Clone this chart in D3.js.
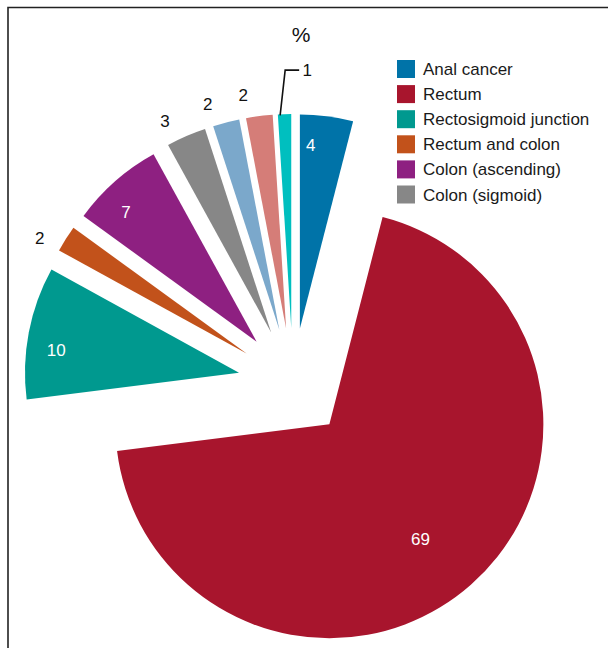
<!DOCTYPE html>
<html lang="en">
<head>
  <meta charset="UTF-8">
  <title>Exploded pie – tumour site</title>
  <script src="https://d3js.org/d3.v7.min.js"></script>
  <style>
    body { margin: 0; background: #fff; font-family: "Liberation Sans", Arial, sans-serif; }
    .slice-label { font-size: 17px; text-anchor: middle; }
    .legend text { font-size: 17px; fill: #1a1a1a; }
  </style>
</head>
<body>
  <svg id="chart" width="608" height="648"></svg>
  <script>
    // Data (percent), clockwise from 12 o'clock
    const categories = ["Anal cancer", "Rectum", "Rectosigmoid junction", "Rectum and colon",
                        "Colon (ascending)", "Colon (sigmoid)", "Other 1", "Other 2", "Other 3"];
    const values = [4, 69, 10, 2, 7, 3, 2, 2, 1];
    const colors = ["#0073a8", "#a8152d", "#00998f", "#c2521b", "#8e2081", "#878787",
                    "#7ba8cb", "#d57d78", "#00bfbf"];
    // only the first six appear in the legend
    const legendItems = categories.slice(0, 6);

    const width = 608, height = 648;
    const cx = 293, cy = 383;       // common pie centre
    const radius = 214;
    const explode = 55;             // every slice pushed out along its bisector
    const deg = Math.PI / 180;

    const svg = d3.select("#chart");

    // frame (top and left rules)
    svg.append("path")
      .attr("d", `M8,${height} L8,7.5 L${width},7.5`)
      .attr("fill", "none")
      .attr("stroke", "#222")
      .attr("stroke-width", 1.6);

    const data = values.map((v, i) => ({ name: categories[i], value: v, color: colors[i] }));
    const arcs = d3.pie().sort(null).value(d => d.value)(data);
    const arcGen = d3.arc().innerRadius(0).outerRadius(radius);

    // polar helper: angle measured clockwise from top, as d3.arc does
    const polar = (a, r) => [r * Math.sin(a), -r * Math.cos(a)];

    const g = svg.append("g").attr("transform", `translate(${cx},${cy})`);

    const slice = g.selectAll("g.slice")
      .data(arcs)
      .join("g")
        .attr("class", "slice")
        .attr("transform", d => {
          const [x, y] = polar((d.startAngle + d.endAngle) / 2, explode);
          return `translate(${x},${y})`;
        });

    slice.append("path")
      .attr("d", arcGen)
      .attr("fill", d => d.data.color);

    // value labels
    slice.each(function(d) {
      const sel = d3.select(this);
      const mid = (d.startAngle + d.endAngle) / 2;
      if (d.data.value > 50) {
        const [x, y] = polar(mid + 3 * deg, radius * 0.685);
        sel.append("text").attr("class", "slice-label")
          .attr("x", x).attr("y", y).attr("dy", "0.35em")
          .attr("fill", "#fff")
          .text(d.data.value);
      } else if (d.data.value >= 4) {
        const [x, y] = polar(mid - 3.8 * deg, radius * 0.86);
        sel.append("text").attr("class", "slice-label")
          .attr("x", x).attr("y", y).attr("dy", "0.35em")
          .attr("fill", "#fff")
          .text(d.data.value);
      } else if (d.data.value >= 2) {
        const [x, y] = polar(mid - 3.2 * deg, radius + 23);
        sel.append("text").attr("class", "slice-label")
          .attr("x", x).attr("y", y).attr("dy", "0.35em")
          .attr("fill", "#111")
          .text(d.data.value);
      } else {
        // tiny slice: leader line to the label
        const [x0, y0] = polar(mid - 1.2 * deg, radius - 1);
        const [x1, y1] = polar(mid, radius + 44);
        const x1b = x1 + 2;
        sel.append("path")
          .attr("d", `M${x0},${y0} L${x1b},${y1} L${x1b + 14},${y1}`)
          .attr("fill", "none")
          .attr("stroke", "#111")
          .attr("stroke-width", 1.6);
        sel.append("text").attr("class", "slice-label")
          .attr("x", x1b + 22).attr("y", y1).attr("dy", "0.35em")
          .attr("fill", "#111")
          .text(d.data.value);
      }
    });

    // unit title
    svg.append("text")
      .attr("x", 301).attr("y", 42)
      .attr("text-anchor", "middle")
      .attr("font-size", 21)
      .attr("fill", "#111")
      .text("%");

    // legend
    const legend = svg.append("g").attr("class", "legend")
      .attr("transform", "translate(397,60)");
    const row = legend.selectAll("g")
      .data(legendItems)
      .join("g")
        .attr("transform", (d, i) => `translate(0,${i * 25.1})`);
    row.append("rect")
      .attr("width", 18).attr("height", 18)
      .attr("fill", (d, i) => colors[i]);
    row.append("text")
      .attr("x", 26).attr("y", 15)
      .text(d => d);
  </script>
</body>
</html>
